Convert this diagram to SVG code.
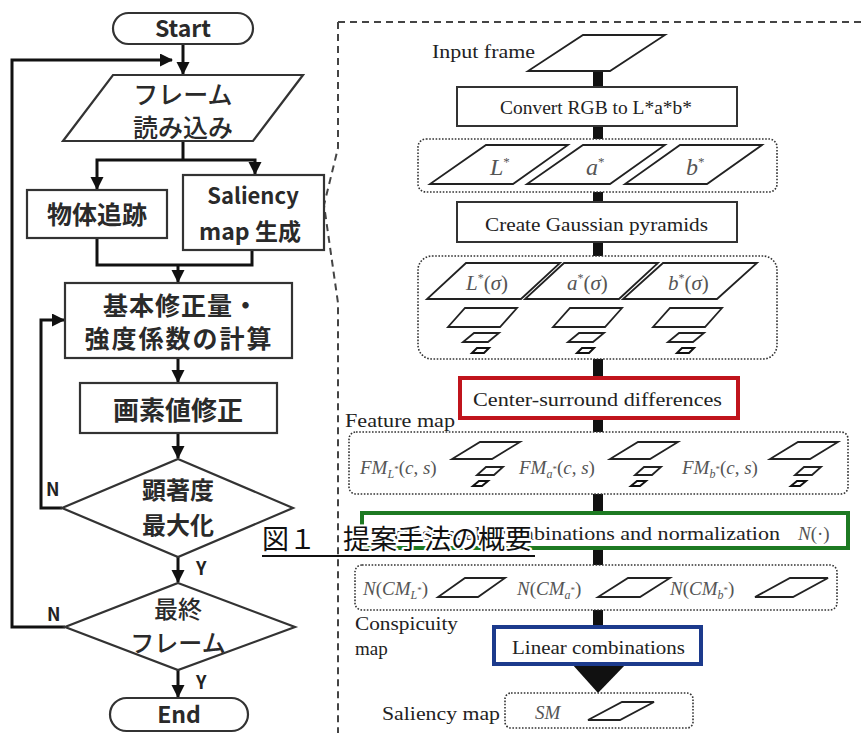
<svg xmlns="http://www.w3.org/2000/svg" width="865" height="733" viewBox="0 0 865 733">
<defs>
<marker id="ah" markerUnits="userSpaceOnUse" markerWidth="14" markerHeight="14" refX="12" refY="6.5" orient="auto">
<path d="M0,0 L13,6.5 L0,13 z" fill="#111"/>
</marker>
<style>
.box{fill:#fff;stroke:#333;stroke-width:2.2}
.con{fill:none;stroke:#111;stroke-width:3}
.jp{font-family:"Noto Sans CJK JP","Noto Sans",sans-serif;fill:#2a2a2a;text-anchor:middle}
.b{font-weight:700}
.lbl{font-family:"Noto Sans CJK JP","Noto Sans",sans-serif;font-weight:700;font-size:18px;fill:#222}
.para{fill:#fff;stroke:#222;stroke-width:1.8}
.tiny{fill:#fff;stroke:#111;stroke-width:2}
.dot{fill:#fff;stroke:#333;stroke-width:1.6;stroke-dasharray:1.6 1.6}
.rbox{fill:#fff;stroke:#333;stroke-width:2}
.srf{font-family:"Liberation Serif","DejaVu Serif",serif;font-size:19px;fill:#222}
.mth{font-family:"Liberation Serif","DejaVu Serif",serif;font-style:italic;fill:#555}
.bar{fill:#111}
</style>
</defs>
<rect width="865" height="733" fill="#fff"/>

<!-- right panel dashed outline -->
<path d="M338,22 H865 M338,22 V148 L324,205 L338,303 V733" fill="none" stroke="#444" stroke-width="2" stroke-dasharray="7 5"/>

<!-- connectors -->
<g id="connectors">
<path class="con" d="M183,44 V74" marker-end="url(#ah)"/>
<path class="con" d="M65,627 H12 V60 H172" marker-end="url(#ah)"/>
<path class="con" d="M183,141 V160"/>
<path class="con" d="M183,160 H97 V189" marker-end="url(#ah)"/>
<path class="con" d="M183,160 H255 V174" marker-end="url(#ah)"/>
<path class="con" d="M97,238 V265 H252 V250"/>
<path class="con" d="M178,265 V282" marker-end="url(#ah)"/>
<path class="con" d="M178,358 V382" marker-end="url(#ah)"/>
<path class="con" d="M178,433 V458" marker-end="url(#ah)"/>
<path class="con" d="M62,508 H41 V320 H64" marker-end="url(#ah)"/>
<path class="con" d="M178,557 V582" marker-end="url(#ah)"/>
<path class="con" d="M178,670 V697" marker-end="url(#ah)"/>
<rect class="bar" x="593" y="71" width="10" height="16"/>
<rect class="bar" x="593" y="126" width="10" height="13"/>
<rect class="bar" x="593" y="192" width="10" height="10"/>
<rect class="bar" x="593" y="242" width="10" height="14"/>
<rect class="bar" x="593" y="359" width="10" height="19"/>
<rect class="bar" x="593" y="418" width="10" height="14"/>
<rect class="bar" x="593" y="494" width="10" height="19"/>
<rect class="bar" x="593" y="548" width="10" height="17"/>
<rect class="bar" x="593" y="610" width="10" height="17"/>
<path class="bar" d="M572,664 L626,664 L598,693 z"/>
</g>

<!-- left flowchart nodes -->
<g id="start">
<rect class="box" x="113" y="13" width="140" height="31" rx="15.5"/>
<text class="jp b" x="183" y="37" font-size="23">Start</text>
</g>
<g id="read-frame">
<polygon class="box" points="113,75 303,75 253,141 63,141"/>
<text class="jp" x="183" y="104" font-size="25" font-weight="500">フレーム</text>
<text class="jp" x="183" y="137" font-size="25" font-weight="500">読み込み</text>
</g>
<g id="tracking">
<rect class="box" x="27" y="190" width="140" height="48"/>
<text class="jp b" x="97" y="224" font-size="25">物体追跡</text>
</g>
<g id="saliency-gen">
<rect class="box" x="183" y="175" width="141" height="75"/>
<text class="jp b" x="253" y="204" font-size="22">Saliency</text>
<text class="jp b" x="250" y="240" font-size="23">map 生成</text>
</g>
<g id="calc">
<rect class="box" x="65" y="283" width="227" height="75"/>
<text class="jp b" x="181" y="315" font-size="25" letter-spacing="1">基本修正量・</text>
<text class="jp b" x="179" y="348" font-size="25" letter-spacing="2">強度係数の計算</text>
</g>
<g id="pixel-fix">
<rect class="box" x="80" y="383" width="197" height="50"/>
<text class="jp b" x="178" y="420" font-size="26">画素値修正</text>
</g>
<g id="maximize">
<polygon class="box" points="178,459 293,508 178,557 62,508"/>
<text class="jp b" x="178" y="499" font-size="24">顕著度</text>
<text class="jp b" x="178" y="534" font-size="24">最大化</text>
<text class="lbl" x="46" y="496">N</text>
<text class="lbl" x="196" y="575">Y</text>
</g>
<g id="last-frame">
<polygon class="box" points="178,583 295,627 178,670 65,627"/>
<text class="jp" x="178" y="618" font-size="24" font-weight="500">最終</text>
<text class="jp" x="178" y="652" font-size="24" font-weight="500">フレーム</text>
<text class="lbl" x="47" y="621">N</text>
<text class="lbl" x="196" y="689">Y</text>
</g>
<g id="end">
<rect class="box" x="110" y="698" width="138" height="33" rx="16.5"/>
<text class="jp b" x="179" y="723" font-size="23">End</text>
</g>

<!-- right detail nodes -->
<g id="input-frame">
<text class="srf" x="432" y="58" textLength="103" lengthAdjust="spacingAndGlyphs">Input frame</text>
<polygon class="para" points="528,71 610,71 665,35 583,35"/>
</g>
<g id="convert">
<rect class="rbox" x="457" y="87" width="280" height="39"/>
<text class="srf" x="500" y="114" textLength="192" lengthAdjust="spacingAndGlyphs">Convert RGB to L*a*b*</text>
</g>
<g id="lab-channels">
<rect class="dot" x="418" y="139" width="359" height="53" rx="8"/>
<polygon class="para" points="430,184 513,184 568,145 486,145"/>
<polygon class="para" points="527,184 610,184 665,145 583,145"/>
<polygon class="para" points="625,184 707,184 762,145 680,145"/>
<text class="mth" x="490" y="175" font-size="24">L<tspan font-size="13" dy="-9" font-style="normal">*</tspan></text>
<text class="mth" x="586" y="175" font-size="24">a<tspan font-size="13" dy="-9" font-style="normal">*</tspan></text>
<text class="mth" x="686" y="175" font-size="24">b<tspan font-size="13" dy="-9" font-style="normal">*</tspan></text>
</g>
<g id="gaussian">
<rect class="rbox" x="457" y="202" width="280" height="40"/>
<text class="srf" x="485" y="231" textLength="223" lengthAdjust="spacingAndGlyphs">Create Gaussian pyramids</text>
</g>
<g id="pyramids">
<rect class="dot" x="418" y="256" width="359" height="103" rx="14"/>
<polygon class="para" points="427,299 521,299 560,263 466,263"/>
<polygon class="para" points="525,299 619,299 658,263 564,263"/>
<polygon class="para" points="623,299 717,299 757,263 663,263"/>
<text class="mth" x="466" y="290" font-size="21">L<tspan font-size="12" dy="-8" font-style="normal">*</tspan><tspan dy="8" font-style="normal">(</tspan>σ<tspan font-style="normal">)</tspan></text>
<text class="mth" x="567" y="290" font-size="21">a<tspan font-size="12" dy="-8" font-style="normal">*</tspan><tspan dy="8" font-style="normal">(</tspan>σ<tspan font-style="normal">)</tspan></text>
<text class="mth" x="668" y="290" font-size="21">b<tspan font-size="12" dy="-8" font-style="normal">*</tspan><tspan dy="8" font-style="normal">(</tspan>σ<tspan font-style="normal">)</tspan></text>
<polygon class="para" points="448,327 500,327 517,308 465,308"/>
<polygon class="para" points="553,327 605,327 622,308 570,308"/>
<polygon class="para" points="653,327 705,327 722,308 670,308"/>
<polygon class="para" points="463,342 488,342 499,333 474,333"/>
<polygon class="para" points="568,342 593,342 604,333 579,333"/>
<polygon class="para" points="668,342 693,342 704,333 679,333"/>
<polygon class="tiny" points="472,353 484,353 489,348 477,348"/>
<polygon class="tiny" points="577,353 589,353 594,348 582,348"/>
<polygon class="tiny" points="677,353 689,353 694,348 682,348"/>
</g>
<g id="center-surround">
<rect x="460" y="378" width="278" height="40" fill="#fff" stroke="#c0141c" stroke-width="4"/>
<text class="srf" x="473" y="406" textLength="249" lengthAdjust="spacingAndGlyphs">Center-surround differences</text>
</g>
<g id="feature-map">
<text class="srf" x="345" y="427" textLength="110" lengthAdjust="spacingAndGlyphs">Feature map</text>
<rect class="dot" x="349" y="432" width="499" height="62" rx="7"/>
<text class="mth" x="360" y="474" font-size="19">FM<tspan font-size="12" dy="4">L</tspan><tspan font-size="9" dy="-6" font-style="normal">*</tspan><tspan dy="2" font-style="normal">(</tspan>c<tspan font-style="normal">,</tspan> s<tspan font-style="normal">)</tspan></text>
<polygon class="para" points="452,459 492,459 520,442 480,442"/>
<polygon class="para" points="477,475 494,475 503,467 486,467"/>
<polygon class="tiny" points="473,486 482,486 488,481 479,481"/>
<text class="mth" x="519" y="474" font-size="19">FM<tspan font-size="12" dy="4">a</tspan><tspan font-size="9" dy="-6" font-style="normal">*</tspan><tspan dy="2" font-style="normal">(</tspan>c<tspan font-style="normal">,</tspan> s<tspan font-style="normal">)</tspan></text>
<polygon class="para" points="610,459 650,459 678,442 638,442"/>
<polygon class="para" points="635,475 652,475 661,467 644,467"/>
<polygon class="tiny" points="631,486 640,486 646,481 637,481"/>
<text class="mth" x="682" y="474" font-size="19">FM<tspan font-size="12" dy="4">b</tspan><tspan font-size="9" dy="-6" font-style="normal">*</tspan><tspan dy="2" font-style="normal">(</tspan>c<tspan font-style="normal">,</tspan> s<tspan font-style="normal">)</tspan></text>
<polygon class="para" points="770,459 810,459 838,442 798,442"/>
<polygon class="para" points="795,475 812,475 821,467 804,467"/>
<polygon class="tiny" points="791,486 800,486 806,481 797,481"/>
</g>
<g id="across-scale">
<rect x="362" y="513" width="486" height="35" fill="#fff" stroke="#1d7a22" stroke-width="4"/>
<text class="srf" x="378" y="540" textLength="402" lengthAdjust="spacingAndGlyphs">Across-scale combinations and normalization</text>
<text class="mth" x="798" y="540" font-size="19">N<tspan font-style="normal">(·)</tspan></text>
</g>
<g id="conspicuity-map">
<rect class="dot" x="355" y="565" width="482" height="45" rx="7"/>
<text class="mth" x="363" y="595" font-size="19">N<tspan font-style="normal">(</tspan>CM<tspan font-size="12" dy="4">L</tspan><tspan font-size="9" dy="-6" font-style="normal">*</tspan><tspan dy="2" font-style="normal">)</tspan></text>
<polygon class="para" points="438,597 478,597 505,578 465,578"/>
<text class="mth" x="517" y="595" font-size="19">N<tspan font-style="normal">(</tspan>CM<tspan font-size="12" dy="4">a</tspan><tspan font-size="9" dy="-6" font-style="normal">*</tspan><tspan dy="2" font-style="normal">)</tspan></text>
<polygon class="para" points="598,597 640,597 670,578 628,578"/>
<text class="mth" x="670" y="595" font-size="19">N<tspan font-style="normal">(</tspan>CM<tspan font-size="12" dy="4">b</tspan><tspan font-size="9" dy="-6" font-style="normal">*</tspan><tspan dy="2" font-style="normal">)</tspan></text>
<polygon class="para" points="755,597 793,597 828,578 790,578"/>
<text class="srf" x="355" y="630" textLength="103" lengthAdjust="spacingAndGlyphs">Conspicuity</text>
<text class="srf" x="355" y="655">map</text>
</g>
<g id="linear">
<rect x="494" y="627" width="207" height="37" fill="#fff" stroke="#1c3a8c" stroke-width="4"/>
<text class="srf" x="512" y="654" textLength="173" lengthAdjust="spacingAndGlyphs">Linear combinations</text>
</g>
<g id="saliency-map">
<text class="srf" x="382" y="720" textLength="118" lengthAdjust="spacingAndGlyphs">Saliency map</text>
<rect class="dot" x="505" y="693" width="188" height="35" rx="6"/>
<text class="mth" x="535" y="719" font-size="19">SM</text>
<polygon class="para" points="588,720 620,720 654,702 622,702"/>
</g>

<!-- caption -->
<g id="caption">
<text x="262" y="549" font-family="'Noto Sans CJK JP','Noto Sans',sans-serif" font-size="27" fill="#111" stroke="#fff" stroke-width="4" paint-order="stroke" stroke-linejoin="round">図１　提案手法の概要</text>
<line x1="262" y1="556" x2="535" y2="556" stroke="#111" stroke-width="2"/>
</g>
</svg>
